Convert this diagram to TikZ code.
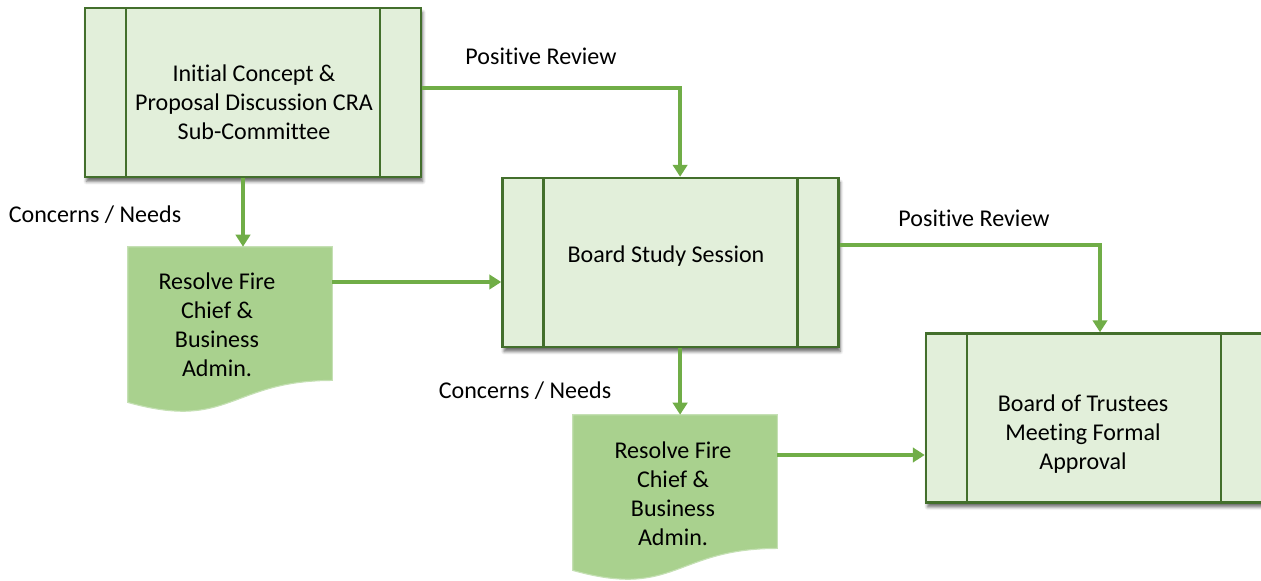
\documentclass[tikz,border=0pt]{standalone}
\usepackage{fontspec}
\setmainfont{Carlito}[Ligatures=NoCommon]
\usetikzlibrary{arrows.meta,shadows.blur,backgrounds}

\definecolor{boxfill}{HTML}{E2EFDA}
\definecolor{boxline}{HTML}{436F2C}
\definecolor{docfill}{HTML}{A9D18E}
\definecolor{docline}{HTML}{C5E0B4}
\definecolor{flowgreen}{HTML}{70AD47}

\tikzset{
  process/.style={draw=boxline, line width=1.7pt, fill=boxfill,
    minimum width=8.4cm, minimum height=4.225cm,
    blur shadow={shadow xshift=0.04cm, shadow yshift=-0.11cm, shadow blur steps=5,
      shadow blur radius=0.08cm, shadow opacity=60},
    path picture={
      \draw[boxline, line width=1.7pt]
        ([xshift=1.025cm]path picture bounding box.north west) -- ([xshift=1.025cm]path picture bounding box.south west)
        ([xshift=-1.025cm]path picture bounding box.north east) -- ([xshift=-1.025cm]path picture bounding box.south east);
    }},
  docshape/.style={minimum width=5.1cm, minimum height=4.15cm},
  boxtext/.style={align=center, font=\fontsize{17.1}{20.6}\selectfont},
  flow/.style={->, draw=flowgreen, line width=2.5pt},
  note/.style={font=\fontsize{17.1}{20.6}\selectfont}
}

\begin{document}
\begin{tikzpicture}[x=0.025cm,y=-0.025cm,>={Triangle[width=0.36cm,length=0.3cm]}]
    \useasboundingbox (0,0) rectangle (1261,580);

    % the three process boxes
    \node[process] (b1) at (253,92.5) {};
    \node[process] (b2) at (670.5,262.5) {};
    \node[process] (b3) at (1094,418) {};

    % the two resolve documents
    \node[docshape] (rf1) at (230,330) {};
    \node[docshape] (rf2) at (675,498) {};

    % document outline with wavy bottom
    \foreach \d in {rf1,rf2} {
      \filldraw[fill=docfill, draw=docline, line width=0.8pt]
        (\d.north west) -- (\d.north east) -- ([yshift=0.822cm]\d.south east)
        .. controls ([yshift=0.822cm]\d.south) and ([yshift=-0.446cm]\d.south) ..
        ([yshift=0.273cm]\d.south west) -- cycle;
    }

    % texts inside the shapes
    \node[boxtext] (t1) at (254,102) {Initial Concept \&\\Proposal Discussion CRA\\Sub-Committee};
    \node[boxtext] (t2) at (666,256) {Board Study Session};
    \node[boxtext] (t3) at (1083,434) {Board of Trustees\\Meeting Formal\\Approval};
    \node[boxtext] (t4) at (217,325) {Resolve Fire\\Chief \&\\Business\\Admin.};
    \node[boxtext] (t5) at (673,494) {Resolve Fire\\Chief \&\\Business\\Admin.};

    % connectors
    \draw[flow] ([yshift=0.11cm]b1.east) -| ([xshift=0.24cm]b2.north);
    \draw[flow] ([xshift=-0.25cm]b1.south) -- ([xshift=-0.25cm]b1.south |- rf1.north);
    \draw[flow] ([yshift=1.2cm]rf1.east) -- ([yshift=1.2cm]rf1.east -| b2.west);
    \draw[flow] ([yshift=0.44cm]b2.east) -| ([xshift=0.15cm]b3.north);
    \draw[flow] ([xshift=0.24cm]b2.south) -- ([xshift=0.24cm]b2.south |- rf2.north);
    \draw[flow] ([yshift=1.075cm]rf2.east) -- ([yshift=1.075cm]rf2.east -| b3.west);

    % connector labels
    \node[note] (pos1) at (541,56) {Positive Review};
    \node[note] (con1) at (95,215) {Concerns / Needs};
    \node[note] (pos2) at (974,218) {Positive Review};
    \node[note] (con2) at (525,391) {Concerns / Needs};
  \end{tikzpicture}
\end{document}
